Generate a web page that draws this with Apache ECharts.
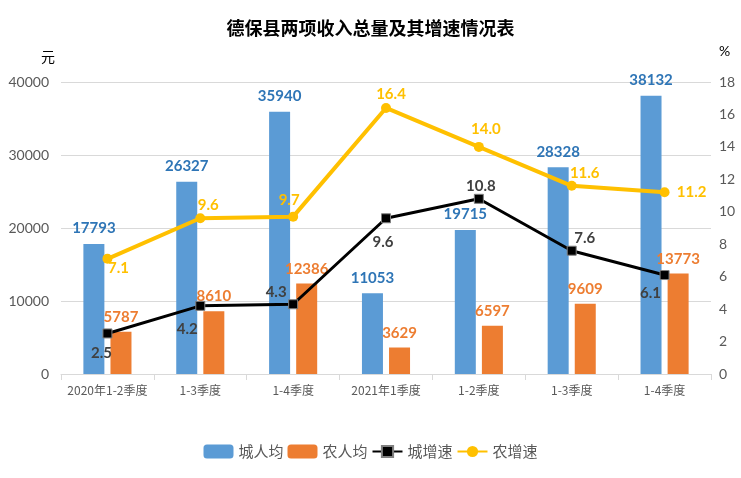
<!DOCTYPE html>
<html>
<head>
<meta charset="utf-8">
<script src="https://cdn.jsdelivr.net/npm/echarts@6/dist/echarts.min.js"></script>
<style>
  html, body { margin: 0; padding: 0; background: #fff; }
  #chart { width: 741px; height: 478px; }
</style>
</head>
<body>
<div id="chart"></div>
<script>
// 分类
var categories = ['2020年1-2季度', '1-3季度', '1-4季度', '2021年1季度', '1-2季度', '1-3季度', '1-4季度'];
// 城镇、农村人均收入（元）
var cityIncome = [17793, 26327, 35940, 11053, 19715, 28328, 38132];
var farmIncome = [5787, 8610, 12386, 3629, 6597, 9609, 13773];
// 增速（%）
var cityGrowth = [2.5, 4.2, 4.3, 9.6, 10.8, 7.6, 6.1];
var farmGrowth = [7.1, 9.6, 9.7, 16.4, 14.0, 11.6, 11.2];

// 折线标签偏移（仅样式）
var cityLabelOffset = [[-6, 20], [-13, 23], [-17, -12], [-3, 24], [2, -13], [13, -13], [-14, 18]];
var farmLabelOffset = [[11, 9], [8, -13], [-4, -16], [5, -14], [7, -18], [13, -13], [27, 0]];

var chart = echarts.init(document.getElementById('chart'));

function lineData(values, offsets) {
    var arr = [];
    for (var i = 0; i < values.length; i++) {
        arr.push({
            value: values[i],
            label: { position: 'inside', offset: offsets[i] }
        });
    }
    return arr;
}

var labelFont = { fontFamily: 'Lato', fontWeight: 'bold', fontSize: 15 };

var option = {
    backgroundColor: '#ffffff',
    title: {
        text: '德保县两项收入总量及其增速情况表',
        left: 'center',
        top: 14,
        textStyle: { fontFamily: 'Noto Sans CJK SC', fontWeight: 'bold', fontSize: 18, color: '#000' }
    },
    legend: {
        bottom: 14,
        left: 'center',
        itemWidth: 30,
        itemHeight: 14,
        itemGap: 4,
        textStyle: { fontFamily: 'Noto Sans CJK SC', fontSize: 15, color: '#595959' },
        data: ['城人均', '农人均', '城增速', '农增速']
    },
    grid: { left: 61, right: 30, top: 82, bottom: 104 },
    xAxis: {
        type: 'category',
        data: categories,
        axisLine: { lineStyle: { color: '#d9d9d9' } },
        axisTick: { show: true, interval: 0, lineStyle: { color: '#d9d9d9' }, length: 6 },
        axisLabel: { interval: 0, color: '#595959', fontFamily: 'Noto Sans CJK SC', fontSize: 12, margin: 10 }
    },
    yAxis: [
        {
            type: 'value',
            min: 0, max: 40000, interval: 10000,
            name: '元',
            nameGap: 18,
            nameTextStyle: { color: '#000', fontFamily: 'Noto Sans CJK SC', fontSize: 14, align: 'right', padding: [0, 6, 0, 0] },
            axisLine: { show: false },
            axisTick: { show: false },
            splitLine: { lineStyle: { color: '#d9d9d9' } },
            axisLabel: { color: '#595959', fontFamily: 'Lato', fontSize: 14, margin: 12, formatter: function (v) { return String(v); } }
        },
        {
            type: 'value',
            min: 0, max: 18, interval: 2,
            name: '%',
            nameGap: 24,
            nameTextStyle: { color: '#000', fontFamily: 'Lato', fontSize: 14, align: 'left', padding: [0, 0, 0, 8] },
            axisLine: { show: false },
            axisTick: { show: false },
            splitLine: { show: false },
            axisLabel: { color: '#595959', fontFamily: 'Lato', fontSize: 14, margin: 8 }
        }
    ],
    series: [
        {
            name: '城人均',
            type: 'bar',
            data: cityIncome,
            barWidth: 21,
            barGap: '29%',
            itemStyle: { color: '#5b9bd5' },
            label: Object.assign({ show: true, position: 'top', distance: 8, color: '#2e75b6' }, labelFont)
        },
        {
            name: '农人均',
            type: 'bar',
            data: farmIncome,
            barWidth: 21,
            itemStyle: { color: '#ed7d31' },
            label: Object.assign({ show: true, position: 'top', distance: 7, color: '#ed7d31' }, labelFont)
        },
        {
            name: '城增速',
            type: 'line',
            yAxisIndex: 1,
            data: lineData(cityGrowth, cityLabelOffset),
            symbol: 'rect',
            symbolSize: 9,
            lineStyle: { color: '#000', width: 3 },
            itemStyle: { color: '#000', borderColor: '#808080', borderWidth: 1 },
            label: Object.assign({ show: true, color: '#404040', formatter: function (p) { return p.value.toFixed(1); } }, labelFont),
            z: 3
        },
        {
            name: '农增速',
            type: 'line',
            yAxisIndex: 1,
            data: lineData(farmGrowth, farmLabelOffset),
            symbol: 'circle',
            symbolSize: 10,
            lineStyle: { color: '#ffc000', width: 4 },
            itemStyle: { color: '#ffc000' },
            label: Object.assign({ show: true, color: '#ffc000', formatter: function (p) { return p.value.toFixed(1); } }, labelFont),
            z: 4
        }
    ]
};

chart.setOption(option);
</script>
</body>
</html>
